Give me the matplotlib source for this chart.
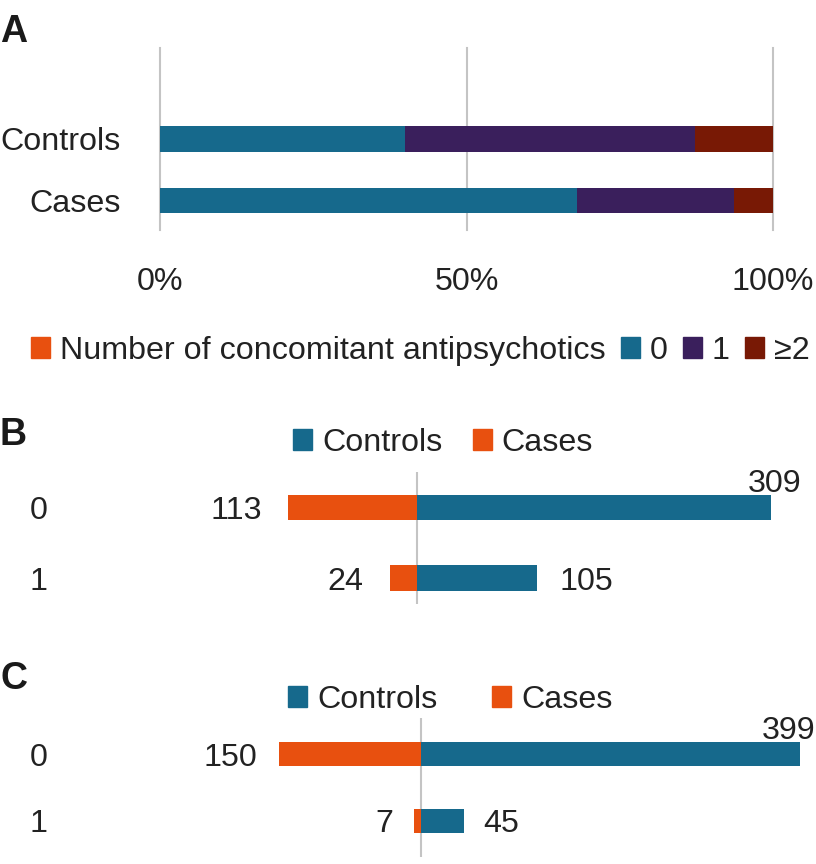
import matplotlib
matplotlib.use('Agg')
import matplotlib.pyplot as plt
from matplotlib.patches import Patch
import matplotlib.transforms as mtransforms

plt.rcParams['font.family'] = ['Liberation Sans', 'DejaVu Sans']

W, H = 816, 864
FS = 23.2
TXT = '#222222'
BLUE = '#16698C'
PURPLE = '#3A1F5C'
DARKRED = '#781905'
ORANGE = '#E8500F'
GRID = '#C4C4C4'

# ---- Panel A data ----
groups_a = ['Controls', 'Cases']
levels_a = ['0', '1', '≥2']
pct_0 = [40.0, 68.0]
pct_1 = [47.3, 25.6]
pct_2 = [12.7, 6.4]
xticks_a = [0, 50, 100]
xticklabels_a = ['0%', '50%', '100%']
legend_title_a = 'Number of concomitant antipsychotics'

# ---- Panel B data ----
cats_b = ['0', '1']
controls_b = [309, 105]
cases_b = [113, 24]

# ---- Panel C data ----
cats_c = ['0', '1']
controls_c = [399, 45]
cases_c = [150, 7]

series_names = ['Controls', 'Cases']

fig = plt.figure(figsize=(W / 100, H / 100), dpi=100)


def px_axes(l, t, r, b):
    return fig.add_axes([l / W, 1 - b / H, (r - l) / W, (b - t) / H])


# ================= Panel A =================
axA = px_axes(160, 48, 773, 230)
ys = list(range(len(groups_a)))
left = [0.0] * len(groups_a)
for vals, c in zip([pct_0, pct_1, pct_2], [BLUE, PURPLE, DARKRED]):
    axA.barh(ys, vals, left=left, height=0.41, color=c, linewidth=0, zorder=3)
    left = [l + v for l, v in zip(left, vals)]
axA.set_xlim(0, 100)
axA.set_ylim(1.49, -1.49)
axA.set_xticks(xticks_a, xticklabels_a)
axA.set_yticks(ys, groups_a)
axA.tick_params(length=0, labelsize=FS, labelcolor=TXT)
axA.tick_params(axis='x', pad=27)
axA.tick_params(axis='y', pad=28)
axA.grid(axis='x', color=GRID, lw=1.5, zorder=0)
axA.set_axisbelow(True)
for ln in axA.get_xgridlines():
    ln.set_clip_on(False)
for s in axA.spines.values():
    s.set_visible(False)

handlesA = [Patch(color=ORANGE, label=legend_title_a),
            Patch(color=BLUE, label=levels_a[0]),
            Patch(color=PURPLE, label=levels_a[1]),
            Patch(color=DARKRED, label=levels_a[2])]
fig.legend(handles=handlesA, loc='center left', bbox_to_anchor=(31 / W, 1 - 351 / H),
           ncol=4, frameon=False, fontsize=FS, handlelength=0.6, handleheight=0.6,
           handletextpad=0.3, columnspacing=0.47, borderpad=0, borderaxespad=0,
           labelcolor=TXT)

fig.text(0 / W, 1 - 42 / H, 'A', fontsize=27, fontweight='bold', color='#1a1a1a', va='baseline')


# ================= Panels B & C =================
def diverging(box, cats, controls, cases, ylim, xlim, leg_xy, colsp, letter, letter_base,
              bar_h, gap_l, gap_r):
    ax = px_axes(*box)
    y = list(range(len(cats)))
    ax.barh(y, controls, height=bar_h, color=BLUE, linewidth=0, zorder=3)
    ax.barh(y, [-v for v in cases], height=bar_h, color=ORANGE, linewidth=0, zorder=3)
    ax.axvline(0, color=GRID, lw=1.5, zorder=1)
    ax.set_xlim(*xlim)
    ax.set_ylim(*ylim)
    ax.set_yticks(y, cats)
    ax.set_xticks([])
    ax.tick_params(length=0, labelsize=FS, labelcolor=TXT, pad=9)
    for lab in ax.get_yticklabels():
        lab.set_verticalalignment('center_baseline')
    for s in ax.spines.values():
        s.set_visible(False)
    vmax = max(controls)
    blend = mtransforms.blended_transform_factory(ax.transAxes, ax.transData)
    for yi, c, k in zip(y, controls, cases):
        ax.annotate(str(k), xy=(-k, yi), xytext=(-gap_l, 0), textcoords='offset pixels',
                    ha='right', va='center_baseline', fontsize=FS, color=TXT)
        if c == vmax:
            ax.annotate(str(c), xy=(1.0, yi - bar_h / 2), xycoords=blend,
                        xytext=(-1, 3), textcoords='offset pixels',
                        ha='right', va='baseline', fontsize=FS, color=TXT, annotation_clip=False)
        else:
            ax.annotate(str(c), xy=(c, yi), xytext=(gap_r, 0), textcoords='offset pixels',
                        ha='left', va='center_baseline', fontsize=FS, color=TXT)
    handles = [Patch(color=BLUE, label=series_names[0]), Patch(color=ORANGE, label=series_names[1])]
    fig.legend(handles=handles, loc='center left', bbox_to_anchor=(leg_xy[0] / W, 1 - leg_xy[1] / H),
               ncol=2, frameon=False, fontsize=FS, handlelength=0.6, handleheight=0.6,
               handletextpad=0.3, columnspacing=colsp, borderpad=0, borderaxespad=0,
               labelcolor=TXT)
    fig.text(0 / W, 1 - letter_base / H, letter, fontsize=27, fontweight='bold',
             color='#1a1a1a', va='baseline')
    return ax


# Panel B: center at 417 px, 1.145 px per unit
sB = 1.145
diverging((60, 472, 802, 604), cats_b, controls_b, cases_b,
          ylim=(1.37, -0.51), xlim=((60 - 417) / sB, (802 - 417) / sB),
          leg_xy=(293, 443), colsp=0.95, letter='B', letter_base=445, bar_h=0.36,
          gap_l=26, gap_r=22)

# Panel C: center at 421 px, 0.95 px per unit
sC = 0.95
diverging((60, 718, 816, 857), cats_c, controls_c, cases_c,
          ylim=(1.54, -0.54), xlim=((60 - 421) / sC, (816 - 421) / sC),
          leg_xy=(288, 700), colsp=1.7, letter='C', letter_base=689, bar_h=0.37,
          gap_l=21, gap_r=20)

fig.savefig('out.png', dpi=100)
